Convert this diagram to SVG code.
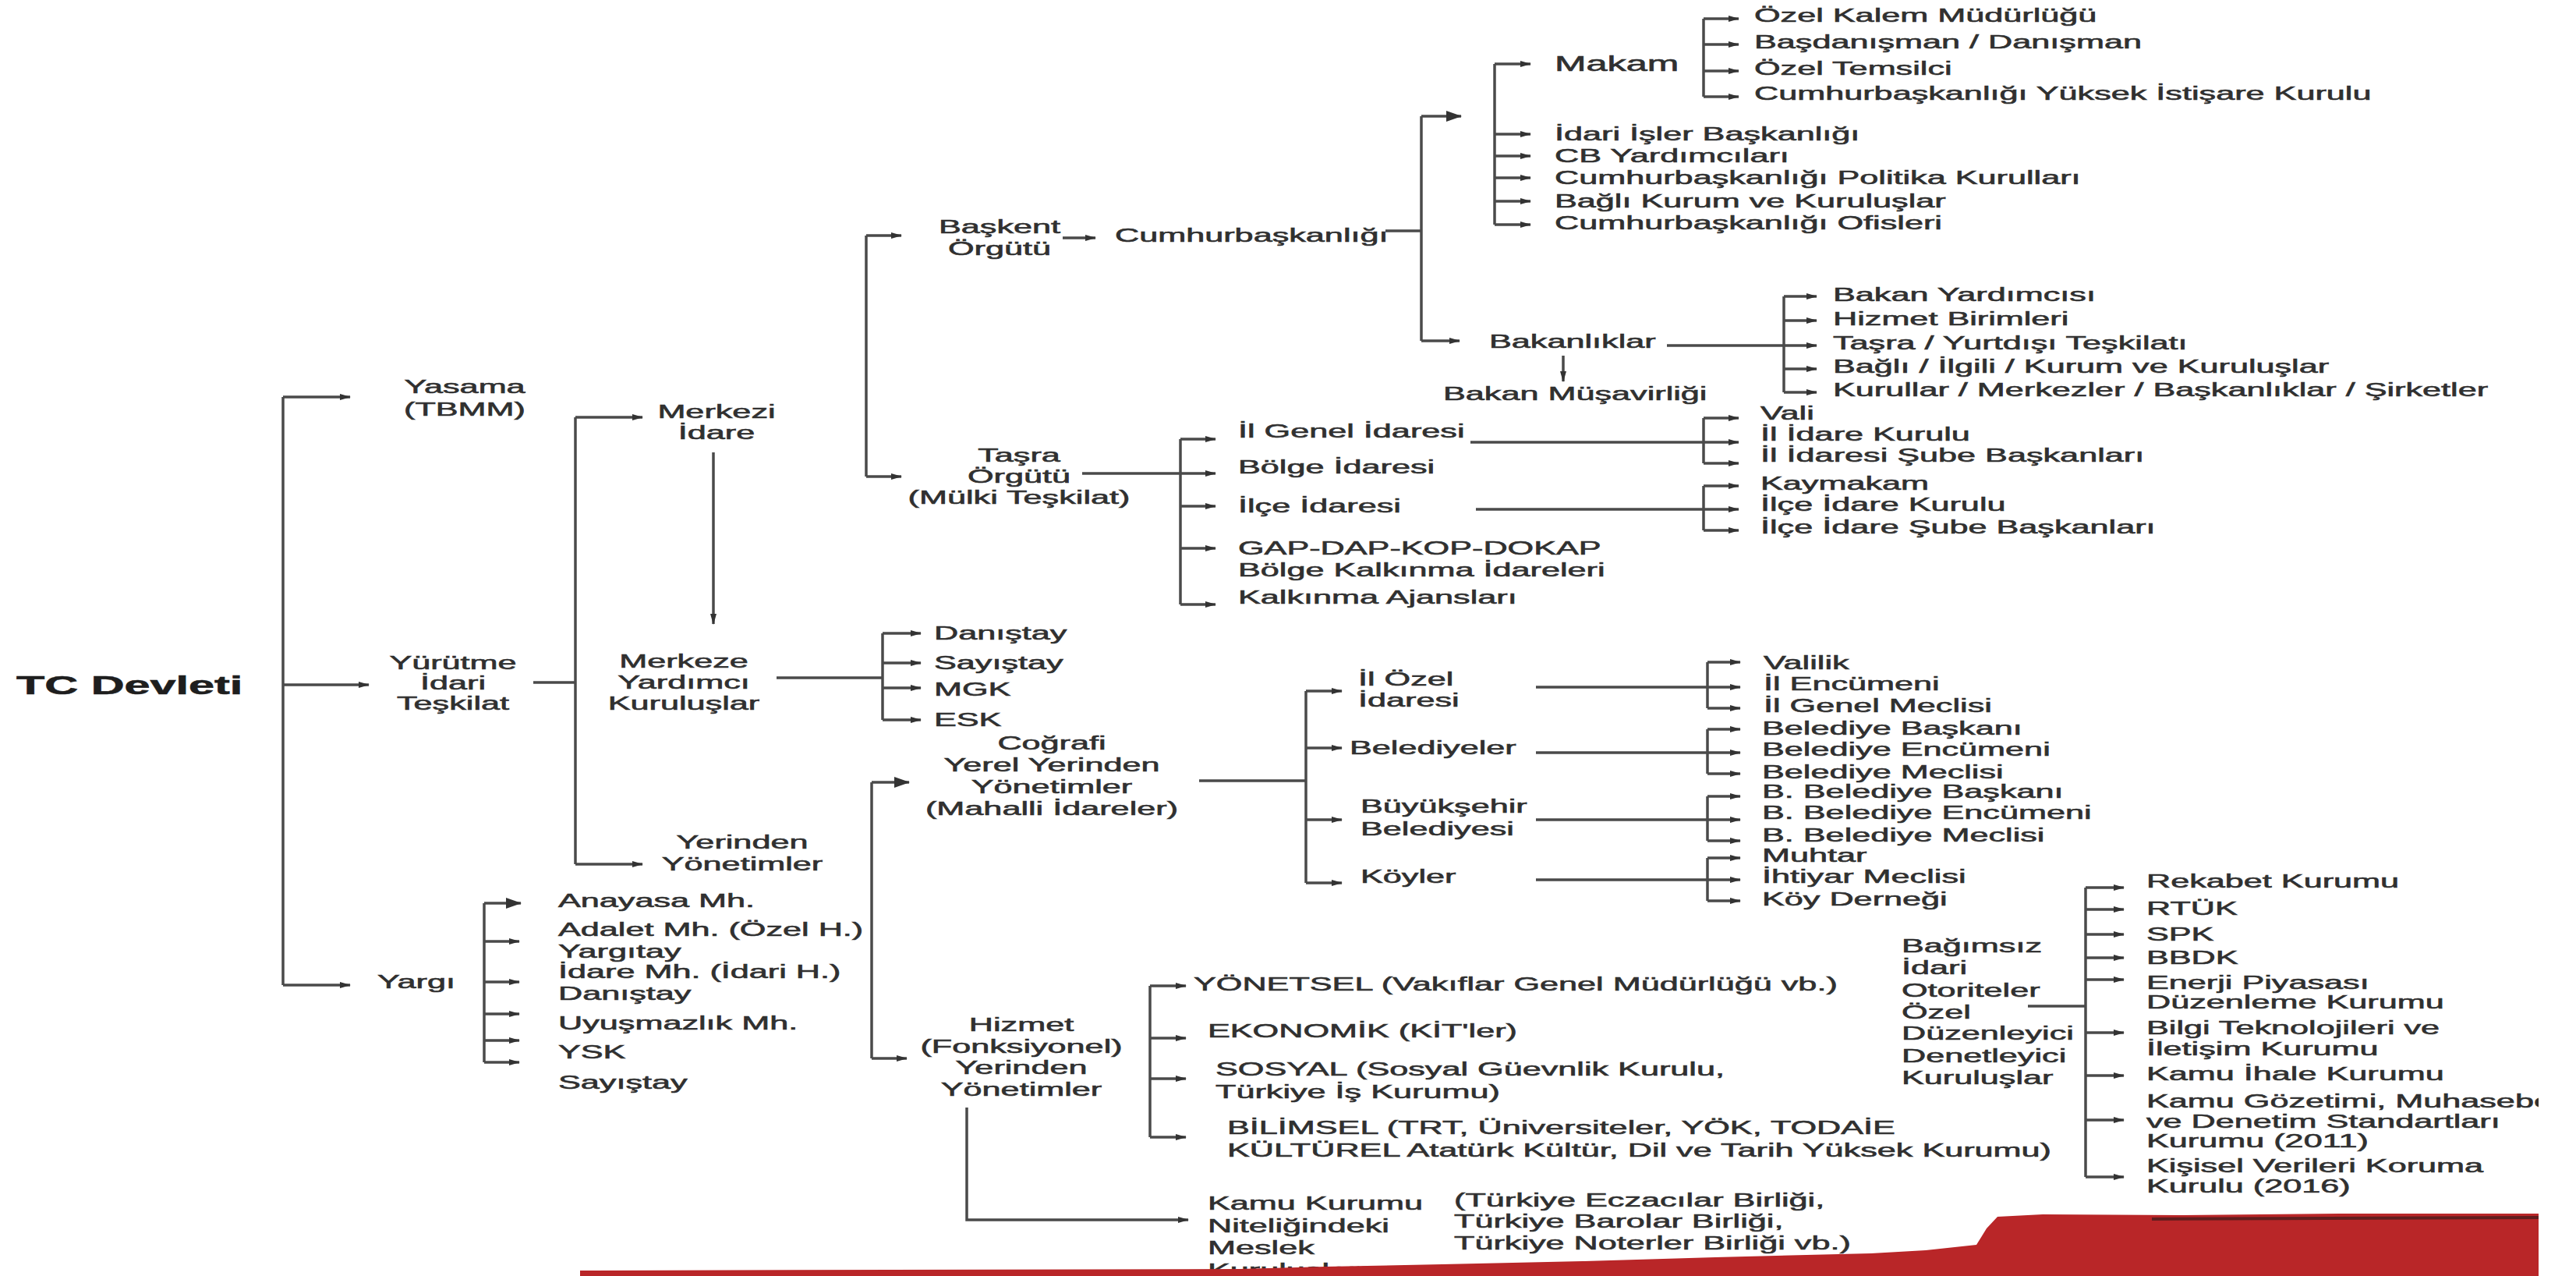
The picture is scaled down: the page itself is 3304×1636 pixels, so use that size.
<svg xmlns="http://www.w3.org/2000/svg" width="3304" height="1636" viewBox="0 0 3304 1636">
<defs>
<style>
text{font-family:"Liberation Sans",Arial,sans-serif;font-size:24px;fill:#303030;stroke:#303030;stroke-width:0.6}
.c{text-anchor:middle}
.b{font-weight:bold;font-size:33px;fill:#1e1e1e;stroke:#1e1e1e}
.m{font-size:27px}
.ln path{fill:none;stroke:#4a4a4a;stroke-width:3.5}
.ln path.a{marker-end:url(#ah)}
.ln path.ab{marker-end:url(#ahb)}
</style>
<marker id="ah" viewBox="0 0 14 10" refX="13" refY="5" markerWidth="14" markerHeight="10" markerUnits="userSpaceOnUse" orient="auto"><path d="M0,1 L14,5 L0,9 z" fill="#333"/></marker>
<marker id="ahb" viewBox="0 0 20 14" refX="19" refY="7" markerWidth="20" markerHeight="14" markerUnits="userSpaceOnUse" orient="auto"><path d="M0,0 L20,7 L0,14 z" fill="#333"/></marker>
</defs>
<rect width="3304" height="1636" fill="#ffffff"/>

<g id="connectors" class="ln">
<path d="M363 509 V1263"/>
<path class="a" d="M363 509 H449"/>
<path class="a" d="M363 878 H473"/>
<path class="a" d="M363 1263 H449"/>
<path d="M684 875 H738"/>
<path d="M738 535 V1108"/>
<path class="a" d="M738 535 H824"/>
<path class="a" d="M738 1108 H824"/>
<path class="a" d="M915 580 V800"/>
<path d="M996 869 H1132"/>
<path d="M1132 812 V923"/>
<path class="a" d="M1132 812 H1181"/>
<path class="a" d="M1132 850 H1181"/>
<path class="a" d="M1132 882 H1181"/>
<path class="a" d="M1132 923 H1181"/>
<path d="M621 1158 V1362"/>
<path class="ab" d="M621 1158 H668"/>
<path class="a" d="M621 1207 H666"/>
<path class="a" d="M621 1259 H666"/>
<path class="a" d="M621 1300 H666"/>
<path class="a" d="M621 1334 H666"/>
<path class="a" d="M621 1362 H666"/>
<path d="M1111 302 V611"/>
<path class="a" d="M1111 302 H1156"/>
<path class="a" d="M1111 611 H1156"/>
<path class="a" d="M1363 305 H1405"/>
<path d="M1777 296 H1823"/>
<path d="M1823 149 V437"/>
<path class="ab" d="M1823 149 H1874"/>
<path class="a" d="M1823 437 H1872"/>
<path d="M1917 82 V288"/>
<path class="a" d="M1917 82 H1963"/>
<path class="a" d="M1917 172 H1963"/>
<path class="a" d="M1917 200 H1963"/>
<path class="a" d="M1917 228 H1963"/>
<path class="a" d="M1917 258 H1963"/>
<path class="a" d="M1917 288 H1963"/>
<path d="M2185 24 V124"/>
<path class="a" d="M2185 24 H2230"/>
<path class="a" d="M2185 57 H2230"/>
<path class="a" d="M2185 91 H2230"/>
<path class="a" d="M2185 124 H2230"/>
<path class="a" d="M2138 443 H2330"/>
<path d="M2288 380 V503"/>
<path class="a" d="M2288 380 H2330"/>
<path class="a" d="M2288 411 H2330"/>
<path class="a" d="M2288 473 H2330"/>
<path class="a" d="M2288 503 H2330"/>
<path class="a" d="M2005 456 V489"/>
<path class="a" d="M1388 607 H1559"/>
<path d="M1514 563 V775"/>
<path class="a" d="M1514 563 H1559"/>
<path class="a" d="M1514 649 H1559"/>
<path class="a" d="M1514 703 H1559"/>
<path class="a" d="M1514 775 H1559"/>
<path class="a" d="M1886 567 H2230"/>
<path d="M2185 536 V594"/>
<path class="a" d="M2185 536 H2230"/>
<path class="a" d="M2185 594 H2230"/>
<path class="a" d="M1893 653 H2230"/>
<path d="M2185 623 V680"/>
<path class="a" d="M2185 623 H2230"/>
<path class="a" d="M2185 680 H2230"/>
<path d="M1118 1003 V1357"/>
<path class="ab" d="M1118 1003 H1166"/>
<path class="a" d="M1118 1357 H1163"/>
<path d="M1538 1001 H1675"/>
<path d="M1675 886 V1132"/>
<path class="a" d="M1675 886 H1721"/>
<path class="a" d="M1675 959 H1721"/>
<path class="a" d="M1675 1051 H1721"/>
<path class="a" d="M1675 1132 H1721"/>
<path class="a" d="M1970 881 H2232"/>
<path d="M2190 849 V908"/>
<path class="a" d="M2190 849 H2232"/>
<path class="a" d="M2190 908 H2232"/>
<path class="a" d="M1970 965 H2232"/>
<path d="M2190 935 V992"/>
<path class="a" d="M2190 935 H2232"/>
<path class="a" d="M2190 992 H2232"/>
<path class="a" d="M1970 1051 H2232"/>
<path d="M2190 1021 V1078"/>
<path class="a" d="M2190 1021 H2232"/>
<path class="a" d="M2190 1078 H2232"/>
<path class="a" d="M1970 1128 H2232"/>
<path d="M2190 1100 V1155"/>
<path class="a" d="M2190 1100 H2232"/>
<path class="a" d="M2190 1155 H2232"/>
<path d="M1475 1264 V1458"/>
<path class="a" d="M1475 1264 H1521"/>
<path class="a" d="M1475 1331 H1521"/>
<path class="a" d="M1475 1383 H1521"/>
<path class="a" d="M1475 1458 H1521"/>
<path class="a" d="M1240 1420 V1564 H1524"/>
<path d="M2601 1290 H2675"/>
<path d="M2675 1138 V1509"/>
<path class="a" d="M2675 1138 H2724"/>
<path class="a" d="M2675 1166 H2724"/>
<path class="a" d="M2675 1198 H2724"/>
<path class="a" d="M2675 1228 H2724"/>
<path class="a" d="M2675 1256 H2724"/>
<path class="a" d="M2675 1324 H2724"/>
<path class="a" d="M2675 1379 H2724"/>
<path class="a" d="M2675 1436 H2724"/>
<path class="a" d="M2675 1509 H2724"/>
</g>

<g id="tc"><text class="b" transform="translate(21 890) scale(1.8 1)">TC Devleti</text></g>
<g id="yasama"><text class="c" transform="translate(596 504) scale(1.8 1)"><tspan x="0">Yasama</tspan><tspan x="0" dy="29">(TBMM)</tspan></text></g>
<g id="yurutme"><text class="c" transform="translate(581 858) scale(1.8 1)"><tspan x="0">Yürütme</tspan><tspan x="0" dy="26">İdari</tspan><tspan x="0" dy="26">Teşkilat</tspan></text></g>
<g id="yargi"><text transform="translate(484 1267) scale(1.8 1)">Yargı</text></g>
<g id="merkezi"><text class="c" transform="translate(919 536) scale(1.8 1)"><tspan x="0">Merkezi</tspan><tspan x="0" dy="27">İdare</tspan></text></g>
<g id="merkeze"><text class="c" transform="translate(877 856) scale(1.8 1)"><tspan x="0">Merkeze</tspan><tspan x="0" dy="27">Yardımcı</tspan><tspan x="0" dy="27">Kuruluşlar</tspan></text></g>
<g id="yerinden"><text class="c" transform="translate(952 1088) scale(1.8 1)"><tspan x="0">Yerinden</tspan><tspan x="0" dy="28">Yönetimler</tspan></text></g>

<g id="yargi-items">
<text transform="translate(716 1163) scale(1.8 1)">Anayasa Mh.</text>
<text transform="translate(716 1200) scale(1.8 1)">Adalet Mh. (Özel H.)</text>
<text transform="translate(716 1228) scale(1.8 1)">Yargıtay</text>
<text transform="translate(716 1254) scale(1.8 1)">İdare Mh. (İdari H.)</text>
<text transform="translate(716 1282) scale(1.8 1)">Danıştay</text>
<text transform="translate(716 1320) scale(1.8 1)">Uyuşmazlık Mh.</text>
<text transform="translate(716 1357) scale(1.8 1)">YSK</text>
<text transform="translate(716 1396) scale(1.8 1)">Sayıştay</text>
</g>

<g id="baskent"><text class="c" transform="translate(1282 299) scale(1.8 1)"><tspan x="0">Başkent</tspan><tspan x="0" dy="28">Örgütü</tspan></text></g>
<g id="cumhurbaskanligi"><text transform="translate(1430 310) scale(1.8 1)">Cumhurbaşkanlığı</text></g>
<g id="makam"><text class="m" transform="translate(1994 91) scale(1.8 1)">Makam</text></g>
<g id="makam-items">
<text transform="translate(2250 28) scale(1.8 1)">Özel Kalem Müdürlüğü</text>
<text transform="translate(2250 62) scale(1.8 1)">Başdanışman / Danışman</text>
<text transform="translate(2250 96) scale(1.8 1)">Özel Temsilci</text>
<text transform="translate(2250 128) scale(1.8 1)">Cumhurbaşkanlığı Yüksek İstişare Kurulu</text>
</g>
<g id="cb-items">
<text transform="translate(1994 180) scale(1.8 1)">İdari İşler Başkanlığı</text>
<text transform="translate(1994 208) scale(1.8 1)">CB Yardımcıları</text>
<text transform="translate(1994 236) scale(1.8 1)">Cumhurbaşkanlığı Politika Kurulları</text>
<text transform="translate(1994 266) scale(1.8 1)">Bağlı Kurum ve Kuruluşlar</text>
<text transform="translate(1994 294) scale(1.8 1)">Cumhurbaşkanlığı Ofisleri</text>
</g>
<g id="bakanliklar"><text transform="translate(1910 446) scale(1.8 1)">Bakanlıklar</text></g>
<g id="bakan-musavirligi"><text transform="translate(1851 513) scale(1.8 1)">Bakan Müşavirliği</text></g>
<g id="bakanlik-items">
<text transform="translate(2351 386) scale(1.8 1)">Bakan Yardımcısı</text>
<text transform="translate(2351 417) scale(1.8 1)">Hizmet Birimleri</text>
<text transform="translate(2351 448) scale(1.8 1)">Taşra / Yurtdışı Teşkilatı</text>
<text transform="translate(2351 478) scale(1.8 1)">Bağlı / İlgili / Kurum ve Kuruluşlar</text>
<text transform="translate(2351 508) scale(1.8 1)">Kurullar / Merkezler / Başkanlıklar / Şirketler</text>
</g>

<g id="tasra"><text class="c" transform="translate(1307 592) scale(1.8 1)"><tspan x="0">Taşra</tspan><tspan x="0" dy="27">Örgütü</tspan><tspan x="0" dy="27">(Mülki Teşkilat)</tspan></text></g>
<g id="tasra-items">
<text transform="translate(1588 561) scale(1.8 1)">İl Genel İdaresi</text>
<text transform="translate(1588 607) scale(1.8 1)">Bölge İdaresi</text>
<text transform="translate(1588 657) scale(1.8 1)">İlçe İdaresi</text>
<text transform="translate(1588 711) scale(1.8 1)"><tspan x="0">GAP-DAP-KOP-DOKAP</tspan><tspan x="0" dy="28">Bölge Kalkınma İdareleri</tspan></text>
<text transform="translate(1588 774) scale(1.8 1)">Kalkınma Ajansları</text>
</g>
<g id="il-genel-items">
<text transform="translate(2258 538) scale(1.8 1)">Vali</text>
<text transform="translate(2258 565) scale(1.8 1)">İl İdare Kurulu</text>
<text transform="translate(2258 592) scale(1.8 1)">İl İdaresi Şube Başkanları</text>
</g>
<g id="ilce-items">
<text transform="translate(2258 628) scale(1.8 1)">Kaymakam</text>
<text transform="translate(2258 655) scale(1.8 1)">İlçe İdare Kurulu</text>
<text transform="translate(2258 684) scale(1.8 1)">İlçe İdare Şube Başkanları</text>
</g>
<g id="merkeze-items">
<text transform="translate(1198 820) scale(1.8 1)">Danıştay</text>
<text transform="translate(1198 858) scale(1.8 1)">Sayıştay</text>
<text transform="translate(1198 892) scale(1.8 1)">MGK</text>
<text transform="translate(1198 931) scale(1.8 1)">ESK</text>
</g>

<g id="cografi"><text class="c" transform="translate(1349 961) scale(1.8 1)"><tspan x="0">Coğrafi</tspan><tspan x="0" dy="28">Yerel Yerinden</tspan><tspan x="0" dy="28">Yönetimler</tspan><tspan x="0" dy="28">(Mahalli İdareler)</tspan></text></g>
<g id="il-ozel"><text transform="translate(1742 879) scale(1.8 1)"><tspan x="0">İl Özel</tspan><tspan x="0" dy="27">İdaresi</tspan></text></g>
<g id="belediyeler"><text transform="translate(1731 967) scale(1.8 1)">Belediyeler</text></g>
<g id="buyuksehir"><text transform="translate(1745 1042) scale(1.8 1)"><tspan x="0">Büyükşehir</tspan><tspan x="0" dy="29">Belediyesi</tspan></text></g>
<g id="koyler"><text transform="translate(1745 1132) scale(1.8 1)">Köyler</text></g>
<g id="il-ozel-items">
<text transform="translate(2262 858) scale(1.8 1)">Valilik</text>
<text transform="translate(2262 885) scale(1.8 1)">İl Encümeni</text>
<text transform="translate(2262 913) scale(1.8 1)">İl Genel Meclisi</text>
</g>
<g id="belediye-items">
<text transform="translate(2260 942) scale(1.8 1)">Belediye Başkanı</text>
<text transform="translate(2260 969) scale(1.8 1)">Belediye Encümeni</text>
<text transform="translate(2260 998) scale(1.8 1)">Belediye Meclisi</text>
</g>
<g id="bb-items">
<text transform="translate(2260 1023) scale(1.8 1)">B. Belediye Başkanı</text>
<text transform="translate(2260 1050) scale(1.8 1)">B. Belediye Encümeni</text>
<text transform="translate(2260 1079) scale(1.8 1)">B. Belediye Meclisi</text>
</g>
<g id="koy-items">
<text transform="translate(2260 1105) scale(1.8 1)">Muhtar</text>
<text transform="translate(2260 1132) scale(1.8 1)">İhtiyar Meclisi</text>
<text transform="translate(2260 1161) scale(1.8 1)">Köy Derneği</text>
</g>

<g id="hizmet"><text class="c" transform="translate(1310 1322) scale(1.8 1)"><tspan x="0">Hizmet</tspan><tspan x="0" dy="28">(Fonksiyonel)</tspan><tspan x="0" dy="27">Yerinden</tspan><tspan x="0" dy="28">Yönetimler</tspan></text></g>
<g id="yonetsel"><text transform="translate(1531 1270) scale(1.8 1)">YÖNETSEL (Vakıflar Genel Müdürlüğü vb.)</text></g>
<g id="ekonomik"><text transform="translate(1549 1330) scale(1.8 1)">EKONOMİK (KİT'ler)</text></g>
<g id="sosyal"><text transform="translate(1559 1379) scale(1.8 1)"><tspan x="0">SOSYAL (Sosyal Güevnlik Kurulu,</tspan><tspan x="0" dy="29">Türkiye İş Kurumu)</tspan></text></g>
<g id="bilimsel"><text transform="translate(1574 1454) scale(1.8 1)"><tspan x="0">BİLİMSEL (TRT, Üniversiteler, YÖK, TODAİE</tspan><tspan x="0" dy="29">KÜLTÜREL Atatürk Kültür, Dil ve Tarih Yüksek Kurumu)</tspan></text></g>
<g id="meslek"><text transform="translate(1549 1551) scale(1.8 1)"><tspan x="0">Kamu Kurumu</tspan><tspan x="0" dy="29">Niteliğindeki</tspan><tspan x="0" dy="28">Meslek</tspan><tspan x="0" dy="29">Kuruluşları</tspan></text></g>
<g id="meslek-ornek"><text transform="translate(1865 1547) scale(1.8 1)"><tspan x="0">(Türkiye Eczacılar Birliği,</tspan><tspan x="0" dy="27">Türkiye Barolar Birliği,</tspan><tspan x="0" dy="28">Türkiye Noterler Birliği vb.)</tspan></text></g>

<g id="bagimsiz"><text transform="translate(2439 1221) scale(1.8 1)"><tspan x="0">Bağımsız</tspan><tspan x="0" dy="28">İdari</tspan><tspan x="0" dy="29">Otoriteler</tspan><tspan x="0" dy="28">Özel</tspan><tspan x="0" dy="27">Düzenleyici</tspan><tspan x="0" dy="29">Denetleyici</tspan><tspan x="0" dy="28">Kuruluşlar</tspan></text></g>
<g id="bdk-items">
<text transform="translate(2753 1138) scale(1.8 1)">Rekabet Kurumu</text>
<text transform="translate(2753 1173) scale(1.8 1)">RTÜK</text>
<text transform="translate(2753 1206) scale(1.8 1)">SPK</text>
<text transform="translate(2753 1236) scale(1.8 1)">BBDK</text>
<text transform="translate(2753 1268) scale(1.8 1)"><tspan x="0">Enerji Piyasası</tspan><tspan x="0" dy="25">Düzenleme Kurumu</tspan></text>
<text transform="translate(2753 1326) scale(1.8 1)"><tspan x="0">Bilgi Teknolojileri ve</tspan><tspan x="0" dy="27">İletişim Kurumu</tspan></text>
<text transform="translate(2753 1385) scale(1.8 1)">Kamu İhale Kurumu</text>
<text transform="translate(2753 1420) scale(1.8 1)"><tspan x="0">Kamu Gözetimi, Muhasebe</tspan><tspan x="0" dy="26">ve Denetim Standartları</tspan><tspan x="0" dy="25">Kurumu (2011)</tspan></text>
<text transform="translate(2753 1503) scale(1.8 1)"><tspan x="0">Kişisel Verileri Koruma</tspan><tspan x="0" dy="26">Kurulu (2016)</tspan></text>
</g>

<g id="footer-band">
<path d="M744 1636 L744 1629 L1590 1627 L1700 1624 L1850 1621 L2030 1617 L2200 1612 L2400 1607 L2470 1603 L2535 1596 L2548 1575 L2562 1560 L2620 1557 L2800 1558 L3000 1556 L3256 1556 L3256 1636 Z" fill="#b92628"/>
<path d="M2760 1563 L3256 1561" stroke="#3a1a1a" stroke-width="4" fill="none" opacity="0.7"/>
<rect x="3256" y="0" width="48" height="1636" fill="#ffffff"/>
</g>
</svg>
